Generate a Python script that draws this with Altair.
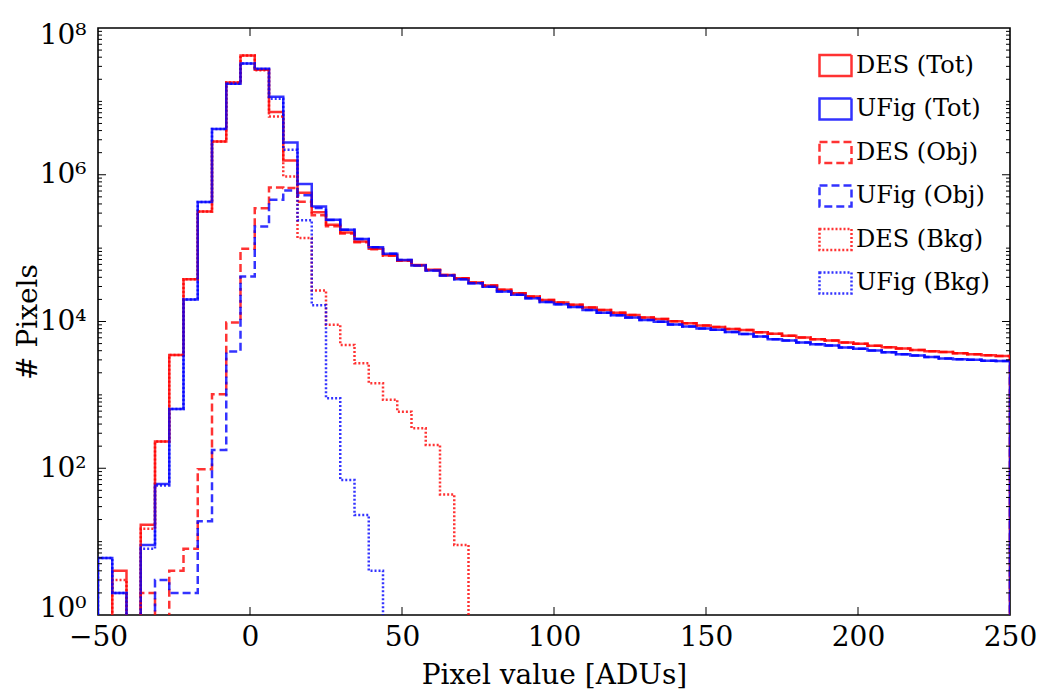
import altair as alt
import numpy as np
import pandas as pd

# 64 bins from -50 to 250
edges = np.linspace(-50, 250, 65)

names = ["DES (Tot)", "UFig (Tot)", "DES (Obj)", "UFig (Obj)", "DES (Bkg)", "UFig (Bkg)"]
colors = ["#ff0000", "#0000ff", "#ff0000", "#0000ff", "#ff0000", "#0000ff"]
dashes = [[1, 0], [1, 0], [8, 4], [8, 4], [2, 2], [2, 2]]
widths = [2.5, 2.5, 2.5, 2.5, 1.6, 1.6]

des_tot = [0, 4, 0, 17, 231, 3500, 37800, 316000, 2840000, 18100000, 42300000, 27000000,
           7150000, 1560000, 570000, 308000, 208000, 163000, 123000, 98000, 80000, 68000,
           59000, 50600, 43000, 39000, 34000, 31000, 27000, 24300, 21900, 19700, 18100,
           16900, 15500, 14300, 13200, 12300, 11300, 10800, 10100, 9500, 8800, 8400, 7900,
           7650, 7150, 6800, 6370, 6040, 5740, 5500, 5160, 4960, 4660, 4470, 4280, 4100,
           3940, 3850, 3700, 3590, 3480, 3400]
ufig_tot = [6, 2, 0, 9, 61, 644, 20000, 424000, 4200000, 17400000, 32900000, 27900000,
            11600000, 2750000, 750000, 369000, 243000, 178000, 133000, 103000, 84000, 69000,
            58000, 49500, 42300, 37800, 33300, 29700, 25600, 23100, 20800, 18400, 17200,
            15800, 14400, 13200, 12200, 11300, 10500, 9890, 9080, 8530, 8010, 7690, 7220,
            6780, 6240, 5740, 5500, 5160, 4910, 4700, 4420, 4240, 4020, 3820, 3590, 3440,
            3270, 3130, 3070, 3000, 2910, 2900]
des_obj = [0, 0, 0, 2, 0, 4, 8, 97, 1020, 9700, 98000, 350000, 670000, 660000, 430000,
           280000, 199000, 158000, 120000, 96500, 79000, 67400, 58650, 50400, 43000, 39000,
           34000, 31000, 27000, 24300, 21900, 19700, 18100, 16900, 15500, 14300, 13200,
           12300, 11300, 10800, 10100, 9500, 8800, 8400, 7900, 7650, 7150, 6800, 6370, 6040,
           5740, 5500, 5160, 4960, 4660, 4470, 4280, 4100, 3940, 3850, 3700, 3590, 3480, 3400]
ufig_obj = [0, 0, 0, 0, 3, 2, 2, 19, 178, 3900, 41000, 197000, 456000, 610000, 525000,
            352000, 242000, 178000, 133000, 103000, 84000, 69000, 58000, 49500, 42300, 37800,
            33300, 29700, 25600, 23100, 20800, 18400, 17200, 15800, 14400, 13200, 12200,
            11300, 10500, 9890, 9080, 8530, 8010, 7690, 7220, 6780, 6240, 5740, 5500, 5160,
            4910, 4700, 4420, 4240, 4020, 3820, 3590, 3440, 3270, 3130, 3070, 3000, 2910, 2900]
des_bkg = [0, 3, 0, 15, 231, 3500, 37800, 316000, 2840000, 18100000, 42200000, 26600000,
           6200000, 950000, 137000, 26400, 9000, 4800, 2700, 1440, 855, 590, 350, 208, 44, 9,
           0, 0, 0, 0, 0, 0, 0, 0, 0, 0, 0, 0, 0, 0, 0, 0, 0, 0, 0, 0, 0, 0, 0, 0, 0, 0,
           0, 0, 0, 0, 0, 0, 0, 0, 0, 0, 0, 0]
ufig_bkg = [6, 2, 0, 8, 58, 642, 20000, 424000, 4200000, 17400000, 32860000, 27700000,
            10900000, 2190000, 240000, 16700, 900, 69, 23, 4, 0, 0, 0, 0, 0, 0, 0, 0, 0, 0,
            0, 0, 0, 0, 0, 0, 0, 0, 0, 0, 0, 0, 0, 0, 0, 0, 0, 0, 0, 0, 0, 0, 0, 0, 0, 0,
            0, 0, 0, 0, 0, 0, 0, 0]

x_ticks = [-50, 0, 50, 100, 150, 200, 250]
y_major = [1, 100, 10000, 1000000, 100000000]

all_series = [des_tot, ufig_tot, des_obj, ufig_obj, des_bkg, ufig_bkg]

rows = []
for name, vals in zip(names, all_series):
    pts = [(edges[0], 0)] + [(edges[i], v) for i, v in enumerate(vals)] + \
          [(edges[-1], vals[-1]), (edges[-1], 0)]
    for j, (xv, yv) in enumerate(pts):
        # empty bins are drawn below the axis floor (clipped away)
        rows.append({"series": name, "x": float(xv), "y": yv if yv > 0 else 0.05, "idx": j})
df = pd.DataFrame(rows)

W, H = 912, 587
FONT = "DejaVu Serif"

xscale = alt.Scale(domain=[-50, 250], nice=False, zero=False)
yscale = alt.Scale(type="log", domain=[1, 1e8], nice=False)

x_axis = alt.Axis(
    values=x_ticks, title="Pixel value [ADUs]", ticks=False, domain=False, grid=False,
    tickSize=0, labelPadding=8, titleY=60, titleBaseline="middle", labelFlush=False)
y_axis = alt.Axis(
    values=y_major, title="# Pixels", ticks=False, domain=False, grid=False,
    tickSize=0, labelPadding=12, titleX=-70, titleY=H / 2, titleAngle=-90,
    titleBaseline="middle", titleAlign="center",
    labelFlush=True, labelFlushOffset=7,
    labelExpr="datum.value == 1 ? '10⁰' : datum.value == 100 ? '10²' : datum.value == 10000 ? '10⁴' : datum.value == 1000000 ? '10⁶' : '10⁸'")

legend = alt.Legend(
    title=None, orient="none", legendX=720, legendY=20,
    symbolType="M-1,-0.65H1V0.65H-1Z", symbolSize=1024, symbolStrokeWidth=2.5,
    symbolOpacity=0.8, labelFontSize=24, labelFont=FONT,
    labelColor="black", labelOffset=3, rowPadding=10.5, labelLimit=400,
)

lines = alt.Chart(df).mark_line(interpolate="step-after", opacity=0.8, clip=True).encode(
    x=alt.X("x:Q", scale=xscale, axis=x_axis),
    y=alt.Y("y:Q", scale=yscale, axis=y_axis),
    color=alt.Color("series:N", scale=alt.Scale(domain=names, range=colors), legend=legend),
    strokeDash=alt.StrokeDash("series:N", scale=alt.Scale(domain=names, range=dashes), legend=legend),
    strokeWidth=alt.StrokeWidth("series:N", scale=alt.Scale(domain=names, range=widths), legend=None),
    order="idx:Q",
)

# inward ticks
xt_df = pd.DataFrame({"x": x_ticks[1:-1]})
ymaj_df = pd.DataFrame({"y": y_major[1:-1]})
ymin_vals = [m * 10 ** k for k in range(0, 8) for m in range(2, 10)] + [10, 1000, 100000, 10000000]
ymin_df = pd.DataFrame({"y": ymin_vals})

tick_style = dict(color="black", strokeWidth=1)
xt_bot = alt.Chart(xt_df).mark_rule(**tick_style).encode(
    x=alt.X("x:Q", axis=x_axis), y=alt.value(H), y2=alt.value(H - 8))
xt_top = alt.Chart(xt_df).mark_rule(**tick_style).encode(
    x=alt.X("x:Q", axis=x_axis), y=alt.value(0), y2=alt.value(8))
ymaj_l = alt.Chart(ymaj_df).mark_rule(**tick_style).encode(
    y=alt.Y("y:Q", axis=y_axis), x=alt.value(0), x2=alt.value(8))
ymaj_r = alt.Chart(ymaj_df).mark_rule(**tick_style).encode(
    y=alt.Y("y:Q", axis=y_axis), x=alt.value(W), x2=alt.value(W - 8))
ymin_l = alt.Chart(ymin_df).mark_rule(**tick_style).encode(
    y=alt.Y("y:Q", axis=y_axis), x=alt.value(0), x2=alt.value(4))
ymin_r = alt.Chart(ymin_df).mark_rule(**tick_style).encode(
    y=alt.Y("y:Q", axis=y_axis), x=alt.value(W), x2=alt.value(W - 4))

chart = alt.layer(lines, xt_bot, xt_top, ymaj_l, ymaj_r, ymin_l, ymin_r).properties(
    width=W, height=H,
    background="white",
    autosize=alt.AutoSizeParams(type="none"),
    padding={"left": 98, "top": 28, "right": 30, "bottom": 81},
).configure_view(
    stroke="black", strokeWidth=1.6
).configure_axis(
    labelFont=FONT, titleFont=FONT,
    labelFontSize=28, titleFontSize=28, titleFontWeight="normal",
    labelColor="black", titleColor="black",
)

chart.save("out.html", embed_options={"renderer": "svg", "actions": False})
